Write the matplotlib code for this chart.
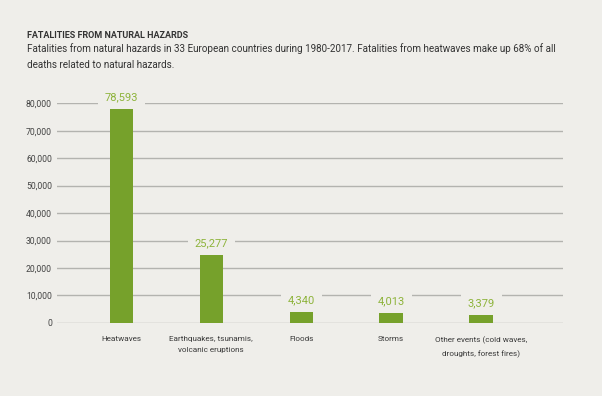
import matplotlib.pyplot as plt
import numpy as np

categories = ["Heatwaves", "Earthquakes, tsunamis,\nvolcanic eruptions", "Floods",
              "Storms", "Other events (cold waves,\ndroughts, forest fires)"]
fatalities = [78593, 25277, 4340, 4013, 3379]
yticks = [0, 10000, 20000, 30000, 40000, 50000, 60000, 70000, 80000]

bg = "#efeeea"
bar_color = "#76a12b"
label_color = "#8db33a"
plt.rcParams["font.family"] = ["Roboto", "DejaVu Sans"]

fig = plt.figure(figsize=(6.02, 3.96), dpi=100)
fig.patch.set_facecolor(bg)

ax = fig.add_axes([57 / 602, 73.2 / 396, 506 / 602, 219.4 / 396])
ax.set_facecolor(bg)

x = np.arange(len(categories))
ax.bar(x, fatalities, width=0.26, color=bar_color, zorder=2)

for xi, v in zip(x, fatalities):
    ax.annotate(f"{v:,}", (xi, v), xytext=(0, 7.5), textcoords="offset points",
                ha="center", va="center", fontsize=8, color=label_color, zorder=4,
                bbox=dict(facecolor=bg, edgecolor="none", pad=5))

ax.set_xlim(-0.717, 4.912)
ax.set_ylim(0, 80000)
ax.set_yticks(yticks)
ax.set_yticklabels([f"{t:,}" for t in yticks], fontsize=6.2, color="#444444")
ax.set_xticks(x)
ax.set_xticklabels(categories, fontsize=5.9, color="#3a3a3a", linespacing=2.1)
ax.tick_params(axis="both", length=0)
ax.tick_params(axis="y", pad=3.6)
ax.tick_params(axis="x", pad=9.5)
ax.yaxis.grid(True, color="#b3b3af", linewidth=1, zorder=0)
ax.set_axisbelow(True)
for s in ax.spines.values():
    s.set_visible(False)

fig.text(27 / 602, 1 - 36 / 396, "FATALITIES FROM NATURAL HAZARDS", fontsize=6.5,
         fontweight="bold", color="#333333", va="center")
fig.text(27 / 602, 1 - 57 / 396,
         "Fatalities from natural hazards in 33 European countries during 1980-2017. "
         "Fatalities from heatwaves make up 68% of all\ndeaths related to natural hazards.",
         fontsize=7.1, color="#333333", va="center", linespacing=1.75)

fig.savefig("out.png", dpi=100, facecolor=bg)
